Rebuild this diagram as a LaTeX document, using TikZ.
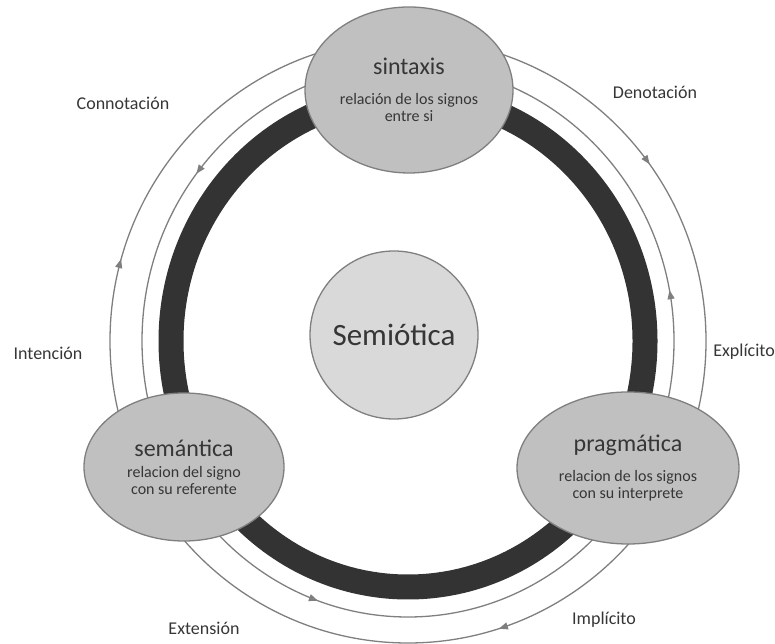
\documentclass[tikz,border=0pt]{standalone}
\usepackage{fontspec}
\setmainfont{Carlito}
\usetikzlibrary{shapes.geometric,arrows.meta,decorations.markings}

\definecolor{ringdark}{HTML}{333333}
\definecolor{linegray}{HTML}{7F7F7F}
\definecolor{ovalfill}{HTML}{C0C0C0}
\definecolor{corefill}{HTML}{D9D9D9}
\definecolor{txt}{HTML}{363636}

\newcommand{\titlefont}{\fontsize{24}{26}\selectfont}
\newcommand{\notefont}{\fontsize{16}{17}\selectfont}

\begin{document}
\begin{tikzpicture}[x=1pt,y=1pt,
    concept/.style={ellipse, draw=linegray, line width=1.3pt, fill=ovalfill,
        text=txt, align=center, inner sep=0pt, font=\notefont},
    side/.style={text=txt, font=\fontsize{18}{18}\selectfont},
    thinring/.style={draw=linegray, line width=1.3pt},
    tip/.tip={Triangle[length=9pt,width=7pt]}]
    \useasboundingbox (0,0) rectangle (775,644);

    \coordinate (C) at (408,303);

    % thick ring
    \draw[ringdark, line width=25pt] (C) ellipse [x radius=237, y radius=246];

    % inner ring, counterclockwise
    \draw[thinring, postaction={decorate}, decoration={markings,
            mark=at position 0.03 with {\arrow[linegray]{tip}},
            mark=at position 0.395 with {\arrow[linegray]{tip}},
            mark=at position 0.696 with {\arrow[linegray]{tip}}}]
        ([shift={(0:266 and 276)}]C) arc [start angle=0, end angle=360, x radius=266, y radius=276];

    % outer ring, clockwise
    \draw[thinring, postaction={decorate}, decoration={markings,
            mark=at position 0.201 with {\arrow[linegray]{tip}},
            mark=at position 0.544 with {\arrow[linegray]{tip}},
            mark=at position 0.900 with {\arrow[linegray]{tip}}}]
        ([shift={(0:298 and 302)}]C) arc [start angle=360, end angle=0, x radius=298, y radius=302];

    \node[concept, minimum width=208pt, minimum height=166pt] (sintaxis) at (409,554)
        {{\titlefont sintaxis}\\[13pt]relación de los signos\\entre si};
    \node[concept, minimum width=200pt, minimum height=148pt] (semantica) at (184,177)
        {{\titlefont semántica}\\[4pt]relacion del signo\\con su referente};
    \node[concept, minimum width=222pt, minimum height=152pt] (pragmatica) at (628,176)
        {{\titlefont pragmática}\\[13pt]relacion de los signos\\con su interprete};

    \node[circle, draw=linegray, line width=1.3pt, fill=corefill, minimum size=168pt,
        text=txt, font=\fontsize{31}{31}\selectfont] (semiotica) at (394,309) {Semiótica};

    \node[side] (connotacion) at (123,541) {Connotación};
    \node[side] (denotacion) at (655,552) {Denotación};
    \node[side] (intencion) at (48,291) {Intención};
    \node[side, anchor=east, inner sep=0pt] (explicito) at (775,292) {Explícito};
    \node[side] (extension) at (204,16) {Extensión};
    \node[side] (implicito) at (604,24) {Implícito};
\end{tikzpicture}
\end{document}
